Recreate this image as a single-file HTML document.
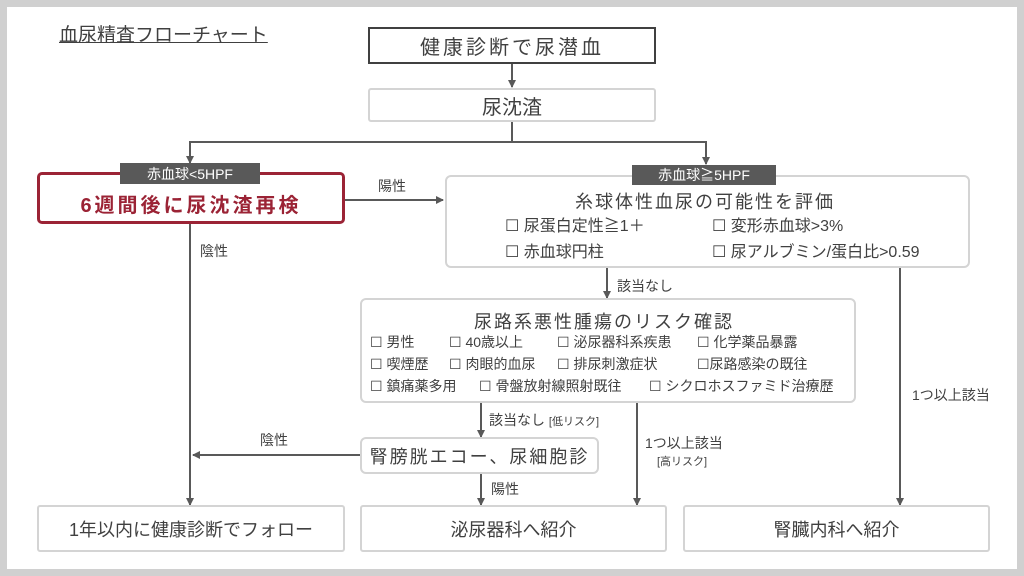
<!DOCTYPE html>
<html><head><meta charset="utf-8"><style>
*{margin:0;padding:0;box-sizing:border-box}
body{width:1024px;height:576px;background:#d0d0d0;position:relative;overflow:hidden;font-family:"Liberation Sans","Noto Sans CJK JP",sans-serif;color:#404040}
#w{position:absolute;left:7px;top:7px;width:1010px;height:562px;background:#fff}
.a{position:absolute;white-space:nowrap}
.b{position:absolute;display:flex;align-items:center;justify-content:center;background:#fff;white-space:nowrap}
.g{border:2px solid #d4d4d4;border-radius:6px}
.t{position:absolute;white-space:nowrap;font-size:14px;line-height:16px}
.lab{position:absolute;background:#595959;color:#fff;font-size:14px;display:flex;align-items:center;justify-content:center}
</style></head><body><div id="w"></div>
<svg style="position:absolute;left:0;top:0" width="1024" height="576">
<defs><marker id="m" markerWidth="8" markerHeight="8" refX="7" refY="4" orient="auto" markerUnits="userSpaceOnUse"><path d="M0,0L8,4L0,8z" fill="#595959"/></marker></defs>
<g stroke="#595959" stroke-width="2" fill="none">
<line x1="512" y1="63" x2="512" y2="87" marker-end="url(#m)"/>
<polyline points="512,121 512,142 190,142 190,163" marker-end="url(#m)"/>
<polyline points="512,142 706,142 706,164" marker-end="url(#m)"/>
<line x1="345" y1="200" x2="443" y2="200" marker-end="url(#m)"/>
<line x1="190" y1="223" x2="190" y2="505" marker-end="url(#m)"/>
<line x1="607" y1="267" x2="607" y2="298" marker-end="url(#m)"/>
<line x1="900" y1="267" x2="900" y2="505" marker-end="url(#m)"/>
<line x1="481" y1="402" x2="481" y2="437" marker-end="url(#m)"/>
<line x1="360" y1="455" x2="193" y2="455" marker-end="url(#m)"/>
<line x1="481" y1="473" x2="481" y2="505" marker-end="url(#m)"/>
<line x1="637" y1="402" x2="637" y2="505" marker-end="url(#m)"/>
</g></svg>
<div class="a" style="left:59px;top:20px;font-size:19px;text-decoration:underline">血尿精査フローチャート</div>
<div class="b" style="left:368px;top:27px;width:288px;height:37px;border:2px solid #404040;font-size:20px;letter-spacing:3px">健康診断で尿潜血</div>
<div class="b g" style="left:368px;top:88px;width:288px;height:34px;font-size:20px;border-radius:3px">尿沈渣</div>
<div class="b" style="left:37px;top:172px;width:308px;height:52px;border:3px solid #9b2335;border-radius:5px;color:#9b2335;font-weight:bold;font-size:20px;letter-spacing:3px;padding-top:10px">6週間後に尿沈渣再検</div>
<div class="lab" style="left:120px;top:163px;width:140px;height:21px">赤血球&lt;5HPF</div>
<div class="b g" style="left:445px;top:175px;width:525px;height:93px"></div>
<div class="lab" style="left:632px;top:165px;width:144px;height:20px">赤血球≧5HPF</div>
<div class="a" style="left:575px;top:188px;font-size:18px;letter-spacing:2px">糸球体性血尿の可能性を評価</div>
<div class="a" style="left:505px;top:212px;font-size:16px">☐ 尿蛋白定性≧1＋</div>
<div class="a" style="left:712px;top:212px;font-size:16px">☐ 変形赤血球&gt;3%</div>
<div class="a" style="left:505px;top:238px;font-size:16px">☐ 赤血球円柱</div>
<div class="a" style="left:712px;top:238px;font-size:16px">☐ 尿アルブミン/蛋白比&gt;0.59</div>
<div class="t" style="left:378px;top:178px">陽性</div>
<div class="t" style="left:200px;top:243px">陰性</div>
<div class="t" style="left:617px;top:278px">該当なし</div>
<div class="b g" style="left:360px;top:298px;width:496px;height:105px"></div>
<div class="a" style="left:474px;top:308px;font-size:18px;letter-spacing:2px">尿路系悪性腫瘍のリスク確認</div>
<div class="t" style="left:370px;top:334px">☐ 男性</div>
<div class="t" style="left:449px;top:334px">☐ 40歳以上</div>
<div class="t" style="left:557px;top:334px">☐ 泌尿器科系疾患</div>
<div class="t" style="left:697px;top:334px">☐ 化学薬品暴露</div>
<div class="t" style="left:370px;top:356px">☐ 喫煙歴</div>
<div class="t" style="left:449px;top:356px">☐ 肉眼的血尿</div>
<div class="t" style="left:557px;top:356px">☐ 排尿刺激症状</div>
<div class="t" style="left:697px;top:356px">☐尿路感染の既往</div>
<div class="t" style="left:370px;top:378px">☐ 鎮痛薬多用</div>
<div class="t" style="left:479px;top:378px">☐ 骨盤放射線照射既往</div>
<div class="t" style="left:649px;top:378px">☐ シクロホスファミド治療歴</div>
<div class="t" style="left:489px;top:412px">該当なし <span style="font-size:11px">[低リスク]</span></div>
<div class="b g" style="left:360px;top:437px;width:239px;height:37px;font-size:18px;letter-spacing:2px">腎膀胱エコー、尿細胞診</div>
<div class="t" style="left:260px;top:432px">陰性</div>
<div class="t" style="left:491px;top:481px">陽性</div>
<div class="t" style="left:645px;top:435px">1つ以上該当</div>
<div class="a" style="left:657px;top:453px;font-size:11px">[高リスク]</div>
<div class="t" style="left:912px;top:387px">1つ以上該当</div>
<div class="b g" style="left:37px;top:505px;width:308px;height:47px;font-size:18px;border-radius:3px">1年以内に健康診断でフォロー</div>
<div class="b g" style="left:360px;top:505px;width:307px;height:47px;font-size:18px;border-radius:3px">泌尿器科へ紹介</div>
<div class="b g" style="left:683px;top:505px;width:307px;height:47px;font-size:18px;border-radius:3px">腎臓内科へ紹介</div>
</body></html>
